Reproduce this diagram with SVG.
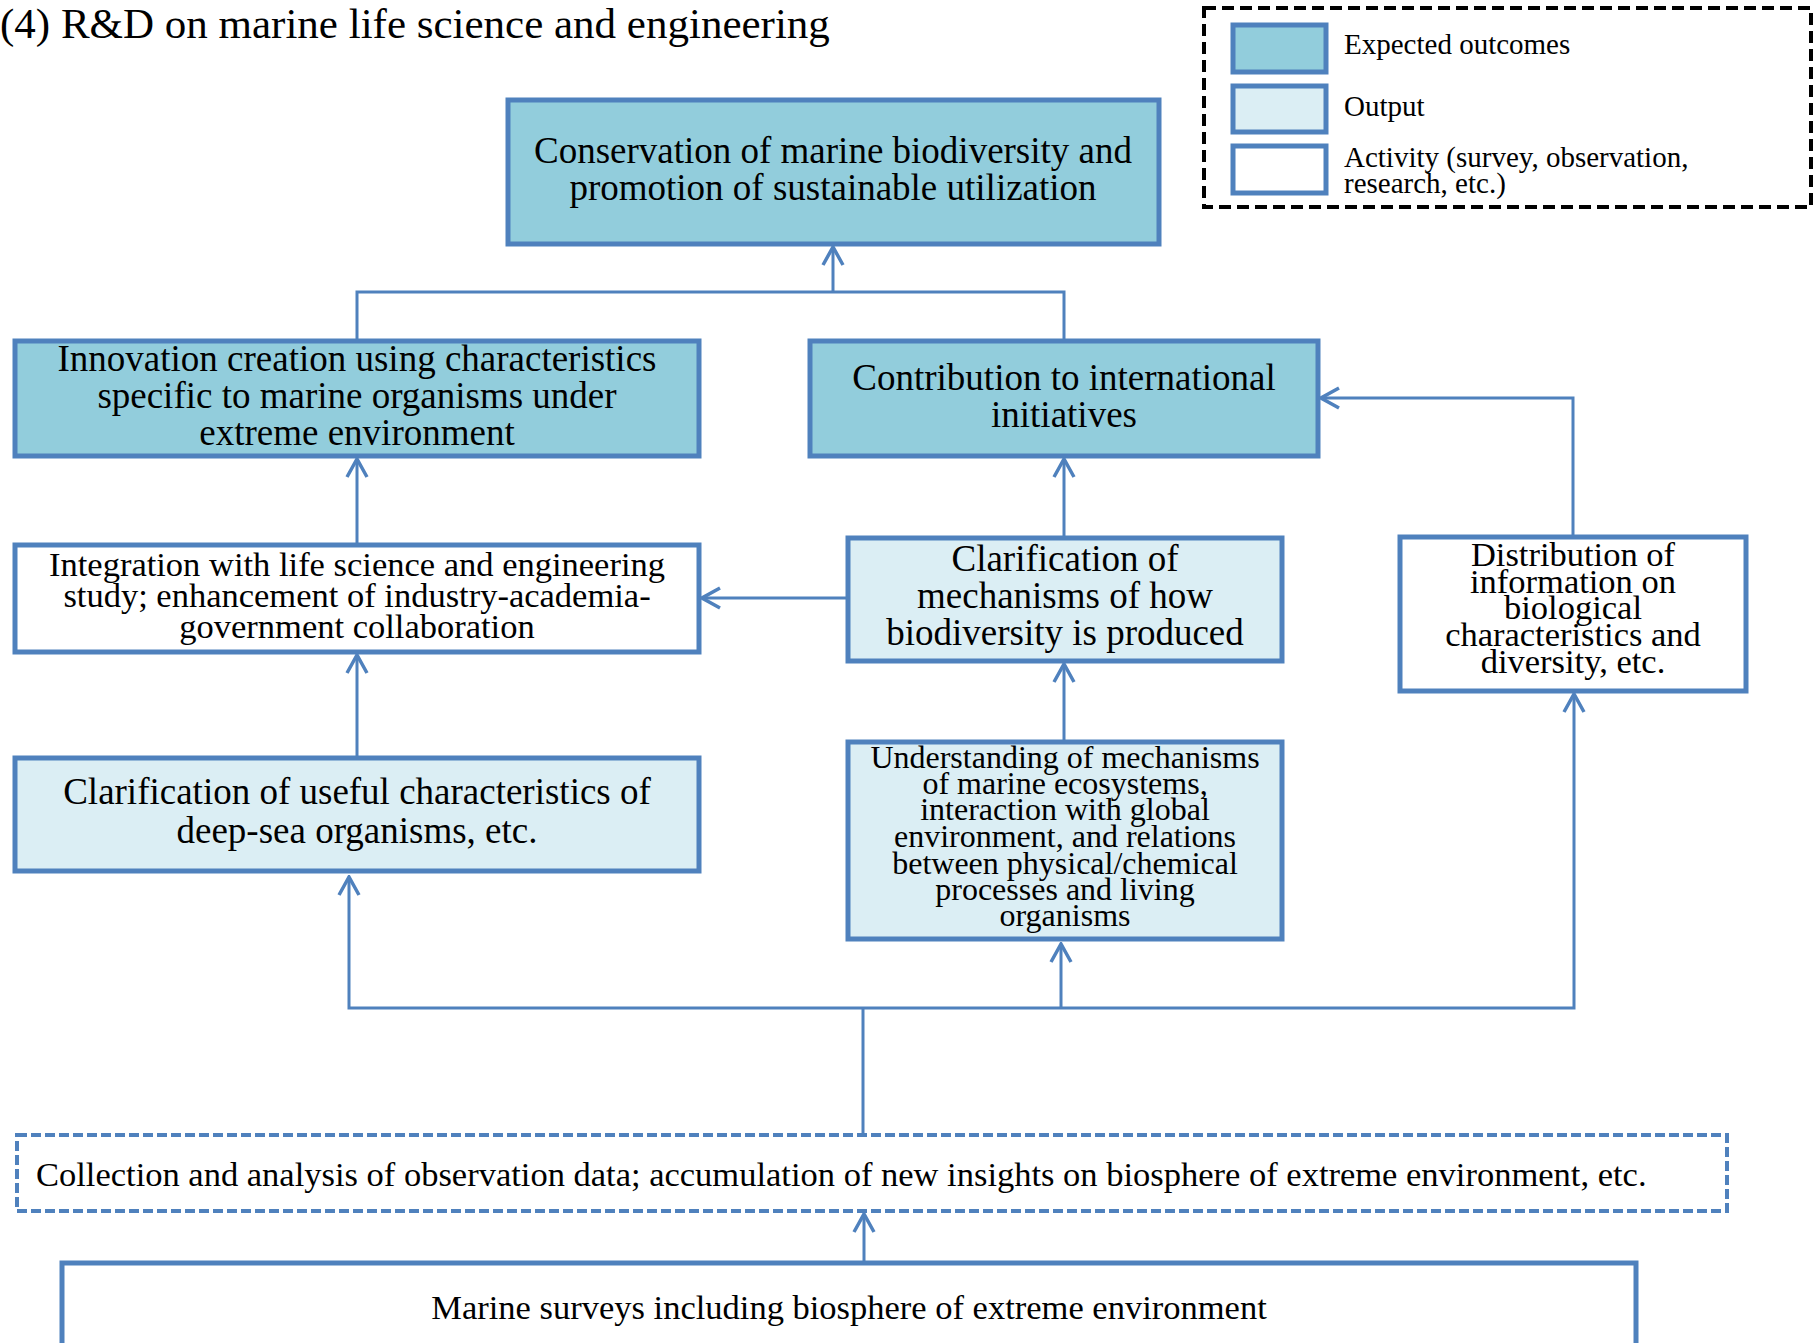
<svg xmlns="http://www.w3.org/2000/svg" width="1814" height="1343" viewBox="0 0 1814 1343">
<style>
text{font-family:"Liberation Serif","Times New Roman",serif;fill:#000}
.c{text-anchor:middle}
.box{stroke:#4f81bd;stroke-width:5}
.dark{fill:#92cddc}
.light{fill:#dbeef4}
.white{fill:#fff}
.con{fill:none;stroke:#4f81bd;stroke-width:3}
.f37{font-size:37px}
.f34{font-size:34.5px}
.f32{font-size:32px}
.f29{font-size:29px}
</style>
<defs>
<marker id="arr" viewBox="-22 -13 24 26" refX="0" refY="0" markerWidth="24" markerHeight="26" markerUnits="userSpaceOnUse" orient="auto">
<path d="M-18,-10 L0,0 L-18,10" fill="none" stroke="#4f81bd" stroke-width="3.5"/>
</marker>
</defs>
<rect width="1814" height="1343" fill="#fff"/>
<text x="0" y="38" style="font-size:43px">(4) R&amp;D on marine life science and engineering</text>

<g id="legend">
<rect x="1204" y="8" width="607" height="199" fill="none" stroke="#000" stroke-width="4" stroke-dasharray="12 6"/>
<rect class="box dark" x="1233" y="25" width="93" height="47"/>
<rect class="box light" x="1233" y="86" width="93" height="46"/>
<rect class="box white" x="1233" y="146" width="93" height="47"/>
<text class="f29" x="1344" y="54">Expected outcomes</text>
<text class="f29" x="1344" y="116">Output</text>
<text class="f29" x="1344" y="167">Activity (survey, observation,</text>
<text class="f29" x="1344" y="193">research, etc.)</text>
</g>

<g id="n-conservation">
<rect class="box dark" x="508" y="100" width="651" height="144"/>
<text class="f37 c" x="833" y="163">Conservation of marine biodiversity and</text>
<text class="f37 c" x="833" y="200">promotion of sustainable utilization</text>
</g>

<g id="n-innovation">
<rect class="box dark" x="15" y="341" width="684" height="115"/>
<text class="f37 c" x="357" y="371">Innovation creation using characteristics</text>
<text class="f37 c" x="357" y="408">specific to marine organisms under</text>
<text class="f37 c" x="357" y="445">extreme environment</text>
</g>

<g id="n-contribution">
<rect class="box dark" x="810" y="341" width="508" height="115"/>
<text class="f37 c" x="1064" y="390">Contribution to international</text>
<text class="f37 c" x="1064" y="427">initiatives</text>
</g>

<g id="n-integration">
<rect class="box white" x="15" y="545" width="684" height="107"/>
<text class="f34 c" x="357" y="576">Integration with life science and engineering</text>
<text class="f34 c" x="357" y="607">study; enhancement of industry-academia-</text>
<text class="f34 c" x="357" y="638">government collaboration</text>
</g>

<g id="n-biodiversity">
<rect class="box light" x="848" y="538" width="434" height="123"/>
<text class="f37 c" x="1065" y="571">Clarification of</text>
<text class="f37 c" x="1065" y="608">mechanisms of how</text>
<text class="f37 c" x="1065" y="645">biodiversity is produced</text>
</g>

<g id="n-distribution">
<rect class="box white" x="1400" y="537" width="346" height="154"/>
<text class="f34 c" x="1573" y="566">Distribution of</text>
<text class="f34 c" x="1573" y="593">information on</text>
<text class="f34 c" x="1573" y="619">biological</text>
<text class="f34 c" x="1573" y="646">characteristics and</text>
<text class="f34 c" x="1573" y="673">diversity, etc.</text>
</g>

<g id="n-useful">
<rect class="box light" x="15" y="758" width="684" height="113"/>
<text class="f37 c" x="357" y="804">Clarification of useful characteristics of</text>
<text class="f37 c" x="357" y="843">deep-sea organisms, etc.</text>
</g>

<g id="n-ecosystems">
<rect class="box light" x="848" y="742" width="434" height="197"/>
<text class="f32 c" x="1065" y="768">Understanding of mechanisms</text>
<text class="f32 c" x="1065" y="794">of marine ecosystems,</text>
<text class="f32 c" x="1065" y="820">interaction with global</text>
<text class="f32 c" x="1065" y="847">environment, and relations</text>
<text class="f32 c" x="1065" y="874">between physical/chemical</text>
<text class="f32 c" x="1065" y="900">processes and living</text>
<text class="f32 c" x="1065" y="926">organisms</text>
</g>

<g id="n-collection">
<rect x="17" y="1135" width="1710" height="76" fill="#fff" stroke="#4f81bd" stroke-width="4" stroke-dasharray="10 4"/>
<text class="f34" x="36" y="1186">Collection and analysis of observation data; accumulation of new insights on biosphere of extreme environment, etc.</text>
</g>

<g id="n-surveys">
<rect class="box white" x="62" y="1263" width="1574" height="100"/>
<text class="f34 c" x="849" y="1319">Marine surveys including biosphere of extreme environment</text>
</g>

<g id="connectors">
<path class="con" d="M357,341 V292 H1064 V341"/>
<path class="con" d="M833,292 V247" marker-end="url(#arr)"/>
<path class="con" d="M357,543 V459" marker-end="url(#arr)"/>
<path class="con" d="M848,598 H702" marker-end="url(#arr)"/>
<path class="con" d="M1064,536 V459" marker-end="url(#arr)"/>
<path class="con" d="M1573,535 V398 H1321" marker-end="url(#arr)"/>
<path class="con" d="M357,756 V655" marker-end="url(#arr)"/>
<path class="con" d="M1064,740 V664" marker-end="url(#arr)"/>
<path class="con" d="M863,1137 V1008"/>
<path class="con" d="M863,1008 H349 V877" marker-end="url(#arr)"/>
<path class="con" d="M863,1008 H1574 V694" marker-end="url(#arr)"/>
<path class="con" d="M1061,1008 V944" marker-end="url(#arr)"/>
<path class="con" d="M864,1261 V1214" marker-end="url(#arr)"/>
</g>
</svg>
